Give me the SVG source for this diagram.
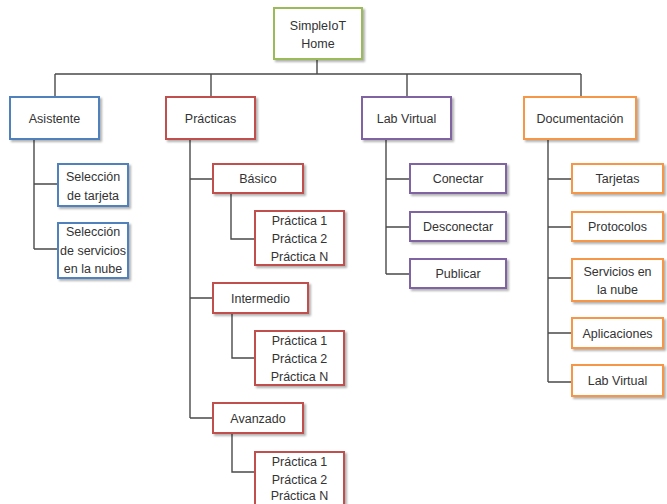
<svg xmlns="http://www.w3.org/2000/svg" width="667" height="504" viewBox="0 0 667 504">
  <defs>
    <filter id="shadow" x="-10%" y="-10%" width="130%" height="140%">
      <feDropShadow dx="2" dy="2" stdDeviation="1.2" flood-color="#000" flood-opacity="0.3"/>
    </filter>
  </defs>
  <style>
    text { font-family: "Liberation Sans", Arial, sans-serif; font-size: 12.5px; fill: #333; text-anchor: middle; }
    .box { fill: #fff; stroke-width: 2; filter: url(#shadow); }
    .green { stroke: #9bbb59; }
    .blue { stroke: #4f81bd; }
    .red { stroke: #c0504d; }
    .purple { stroke: #8064a2; }
    .orange { stroke: #f79646; }
    .links path { fill: none; stroke: #4a4a4a; stroke-width: 1.4; }
  </style>

  <rect width="667" height="504" fill="#fff"/>

  <!-- connectors -->
  <g class="links">
    <path d="M317 59 V74 M55 74 H581 M55 74 V97 M211 74 V97 M407 74 V97 M581 74 V97"/>
    <path d="M34 139 V249 M34 184 H58 M34 249 H58"/>
    <path d="M190 139 V418 M190 179 H213 M190 298 H213 M190 418 H213"/>
    <path d="M231 193 V239 H255 M232 313 V358 H255 M232 433 V472 H255"/>
    <path d="M386 139 V274 M386 179 H410 M386 227 H410 M386 274 H410"/>
    <path d="M548 139 V382 M548 179 H572 M548 227 H572 M548 278 H572 M548 333 H572 M548 382 H572"/>
  </g>

  <g id="home">
    <rect class="box green" x="274" y="8" width="88" height="51"/>
    <text x="318" y="29.5">SimpleIoT</text>
    <text x="318" y="47.5">Home</text>
  </g>

  <g id="asistente">
    <rect class="box blue" x="10" y="97" width="89" height="42"/>
    <text x="54.5" y="122.5">Asistente</text>
  </g>
  <g id="sel-tarjeta">
    <rect class="box blue" x="58" y="164" width="70" height="42"/>
    <text x="93" y="181">Selección</text>
    <text x="93" y="200">de tarjeta</text>
  </g>
  <g id="sel-servicios">
    <rect class="box blue" x="58" y="223" width="70" height="55"/>
    <text x="93" y="235.5">Selección</text>
    <text x="93" y="254.5">de servicios</text>
    <text x="93" y="272.5">en la nube</text>
  </g>

  <g id="practicas">
    <rect class="box red" x="166" y="97" width="89" height="42"/>
    <text x="210.5" y="122.5">Prácticas</text>
  </g>
  <g id="basico">
    <rect class="box red" x="213" y="164" width="90" height="29"/>
    <text x="258" y="183">Básico</text>
  </g>
  <g id="basico-practicas">
    <rect class="box red" x="255" y="211" width="89" height="54"/>
    <text x="299.5" y="224.5">Práctica 1</text>
    <text x="299.5" y="242.5">Práctica 2</text>
    <text x="299.5" y="260.5">Práctica N</text>
  </g>
  <g id="intermedio">
    <rect class="box red" x="213" y="283" width="95" height="30"/>
    <text x="260.5" y="302.5">Intermedio</text>
  </g>
  <g id="intermedio-practicas">
    <rect class="box red" x="255" y="331" width="89" height="54"/>
    <text x="299.5" y="344.5">Práctica 1</text>
    <text x="299.5" y="362.5">Práctica 2</text>
    <text x="299.5" y="380.5">Práctica N</text>
  </g>
  <g id="avanzado">
    <rect class="box red" x="213" y="403" width="90" height="30"/>
    <text x="258" y="422.5">Avanzado</text>
  </g>
  <g id="avanzado-practicas">
    <rect class="box red" x="255" y="452" width="89" height="53"/>
    <text x="299.5" y="466">Práctica 1</text>
    <text x="299.5" y="483.5">Práctica 2</text>
    <text x="299.5" y="500">Práctica N</text>
  </g>

  <g id="lab-virtual">
    <rect class="box purple" x="362" y="97" width="89" height="42"/>
    <text x="406.5" y="122.5">Lab Virtual</text>
  </g>
  <g id="conectar">
    <rect class="box purple" x="410" y="164" width="96" height="29"/>
    <text x="458" y="183">Conectar</text>
  </g>
  <g id="desconectar">
    <rect class="box purple" x="410" y="212" width="96" height="29"/>
    <text x="458" y="231">Desconectar</text>
  </g>
  <g id="publicar">
    <rect class="box purple" x="410" y="259" width="96" height="29"/>
    <text x="458" y="278">Publicar</text>
  </g>

  <g id="documentacion">
    <rect class="box orange" x="524" y="97" width="112" height="42"/>
    <text x="580" y="122.5">Documentación</text>
  </g>
  <g id="tarjetas">
    <rect class="box orange" x="572" y="164" width="91" height="29"/>
    <text x="617.5" y="183">Tarjetas</text>
  </g>
  <g id="protocolos">
    <rect class="box orange" x="572" y="212" width="91" height="29"/>
    <text x="617.5" y="231">Protocolos</text>
  </g>
  <g id="servicios-nube">
    <rect class="box orange" x="572" y="259" width="91" height="42"/>
    <text x="617.5" y="276">Servicios en</text>
    <text x="617.5" y="294">la nube</text>
  </g>
  <g id="aplicaciones">
    <rect class="box orange" x="572" y="318" width="91" height="30"/>
    <text x="617.5" y="337.5">Aplicaciones</text>
  </g>
  <g id="doc-lab-virtual">
    <rect class="box orange" x="572" y="365" width="91" height="31"/>
    <text x="617.5" y="385">Lab Virtual</text>
  </g>
</svg>
